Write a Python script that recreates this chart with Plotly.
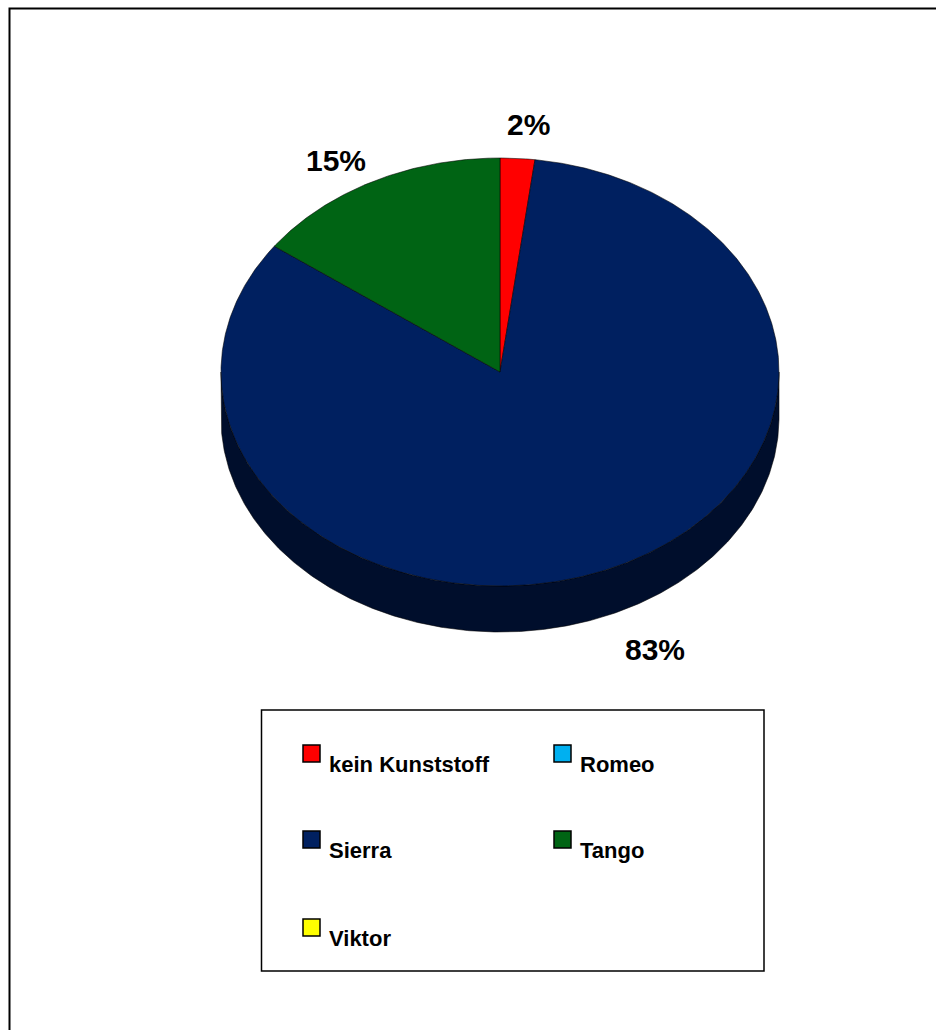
import numpy as np
import plotly.graph_objects as go

# ---- data -------------------------------------------------------------
categories = ["kein Kunststoff", "Romeo", "Sierra", "Tango", "Viktor"]
shares = [2, 0, 83, 15, 0]  # percent
top_colors = ["#FF0000", "#00B0F0", "#002060", "#006414", "#FFFF00"]
side_colors = ["#800000", "#00587A", "#000E2C", "#00320A", "#808000"]

# ---- geometry of the tilted pie (canvas pixels) -------------------------
W, H = 936, 1030
CX, CY = 500, 372
RX, RY = 279, 214
DEPTH = 46

# percentage label anchors (canvas pixels)
label_pos = {
    "kein Kunststoff": (528, 124),
    "Sierra": (655, 649),
    "Tango": (336, 160),
}


def ellipse_pts(a0, a1, dy=0.0):
    """Points on the pie rim, angle measured clockwise from 12 o'clock."""
    n = max(2, int(abs(a1 - a0) * 2) + 2)
    t = np.radians(np.linspace(a0, a1, n))
    return CX + RX * np.sin(t), CY - RY * np.cos(t) + dy


fig = go.Figure()

# slice angle ranges
total = sum(shares)
bounds = []
acc = 0.0
for v in shares:
    a0 = acc / total * 360.0
    acc += v
    bounds.append((a0, acc / total * 360.0))

# visible front wall of every slice
for (a0, a1), v, col in zip(bounds, shares, side_colors):
    if v <= 0:
        continue
    s0, s1 = max(a0, 90.0), min(a1, 270.0)
    if s1 <= s0:
        continue
    tx, ty = ellipse_pts(s0, s1)
    bx, by = ellipse_pts(s1, s0, DEPTH)
    fig.add_trace(go.Scatter(
        x=np.concatenate([tx, bx, tx[:1]]),
        y=np.concatenate([ty, by, ty[:1]]),
        mode="lines", fill="toself", fillcolor=col,
        line=dict(color="rgba(0,0,0,0.55)", width=1),
        hoverinfo="skip", showlegend=False,
    ))

# top faces
for (a0, a1), v, col, name in zip(bounds, shares, top_colors, categories):
    if v <= 0:
        continue
    ax, ay = ellipse_pts(a0, a1)
    fig.add_trace(go.Scatter(
        x=np.concatenate([[CX], ax, [CX]]),
        y=np.concatenate([[CY], ay, [CY]]),
        mode="lines", fill="toself", fillcolor=col,
        line=dict(color="rgba(0,0,0,0.55)", width=1),
        name=name, hoverinfo="skip", showlegend=False,
    ))

annotations = []
shapes = []

# percentage labels
for name, v in zip(categories, shares):
    if v <= 0 or name not in label_pos:
        continue
    lx, ly = label_pos[name]
    annotations.append(dict(
        x=lx, y=ly, xref="x", yref="y", text=f"{v}%", showarrow=False,
        xanchor="center", yanchor="middle",
        font=dict(family="Liberation Sans, Arial", size=30, color="black",
                  weight="bold"),
    ))

# outer frame
shapes.append(dict(type="rect", xref="x", yref="y", x0=9.5, y0=8.5,
                   x1=W + 20, y1=H + 20, line=dict(color="black", width=2),
                   fillcolor="rgba(0,0,0,0)", layer="below"))

# legend box
LEG_X0, LEG_Y0, LEG_X1, LEG_Y1 = 261.5, 710, 764, 971
shapes.append(dict(type="rect", xref="x", yref="y", x0=LEG_X0, y0=LEG_Y0,
                   x1=LEG_X1, y1=LEG_Y1, line=dict(color="black", width=1.5),
                   fillcolor="white", layer="below"))

col_x = [303, 554]
row_y = [745, 831, 919]
SW = 17
for i, (name, col) in enumerate(zip(categories, top_colors)):
    sx = col_x[i % 2]
    sy = row_y[i // 2]
    shapes.append(dict(type="rect", xref="x", yref="y", x0=sx, y0=sy,
                       x1=sx + SW, y1=sy + SW, fillcolor=col,
                       line=dict(color="black", width=1.5), layer="above"))
    annotations.append(dict(
        x=sx + 24, y=sy + 19, xref="x", yref="y", text=name, showarrow=False,
        xanchor="left", yanchor="middle",
        font=dict(family="Liberation Sans, Arial", size=22, color="black",
                  weight="bold"),
    ))

fig.update_layout(
    width=W, height=H,
    margin=dict(l=0, r=0, t=0, b=0),
    paper_bgcolor="white", plot_bgcolor="white",
    xaxis=dict(range=[0, W], visible=False, fixedrange=True),
    yaxis=dict(range=[H, 0], visible=False, fixedrange=True),
    shapes=shapes, annotations=annotations,
    showlegend=False,
)

fig.write_html("out.html")
